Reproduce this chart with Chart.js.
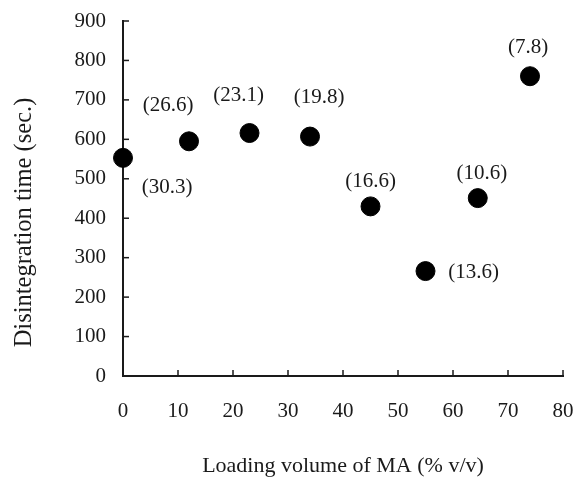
<!DOCTYPE html>
<html lang="en">
<head>
    <meta charset="UTF-8">
    <title>Disintegration time vs loading volume of MA</title>
    <script src="https://cdn.jsdelivr.net/npm/chart.js@4.4.1/dist/chart.umd.min.js"></script>
    <style>
        html, body { margin: 0; padding: 0; background: #fff; }
        #wrap { width: 576px; height: 477px; }
    </style>
</head>
<body>
    <div id="wrap"><canvas id="chart"></canvas></div>

    <script>
        // datos
        const loadingVolume = [0, 12, 23, 34, 45, 55, 64.5, 74];
        const disintegrationTime = [553, 595, 616, 607, 430, 266, 451, 760];
        const pointLabels = ['(30.3)', '(26.6)', '(23.1)', '(19.8)', '(16.6)', '(13.6)', '(10.6)', '(7.8)'];
        const xTickRange = [0, 80, 10];
        const yTickRange = [0, 900, 100];
        const yTitle = 'Disintegration time (sec.)';

        const ink = '#1a1a1a';
        const serif = '"Liberation Serif", "DejaVu Serif", serif';

        // desplazamiento de cada etiqueta respecto a su punto (px)
        const labelOffsets = [[44, 30], [-21, -36], [-11, -38], [9, -39], [0, -25], [48, 1], [4, -25], [-2, -29]];

        // marcas de los ejes hacia dentro + etiquetas de los puntos + titulo Y
        const decor = {
            id: 'decor',
            afterDraw(chart) {
                const ctx = chart.ctx;
                const xs = chart.scales.x, ys = chart.scales.y;
                const area = chart.chartArea;
                ctx.save();
                ctx.strokeStyle = ink;
                ctx.lineWidth = 1.5;
                xs.ticks.forEach(t => {
                    if (t.value === 0) return;
                    const px = xs.getPixelForValue(t.value);
                    ctx.beginPath();
                    ctx.moveTo(px, area.bottom);
                    ctx.lineTo(px, area.bottom - 6);
                    ctx.stroke();
                });
                ys.ticks.forEach(t => {
                    if (t.value === 0) return;
                    const py = ys.getPixelForValue(t.value);
                    ctx.beginPath();
                    ctx.moveTo(area.left, py);
                    ctx.lineTo(area.left + 6, py);
                    ctx.stroke();
                });

                ctx.fillStyle = ink;
                ctx.font = '21px ' + serif;
                ctx.textAlign = 'center';
                ctx.textBaseline = 'middle';
                const meta = chart.getDatasetMeta(0);
                meta.data.forEach((pt, i) => {
                    const off = labelOffsets[i];
                    ctx.fillText(pointLabels[i], pt.x + off[0], pt.y + off[1]);
                });

                // titulo del eje Y, algo mas abajo que el centro del area
                ctx.font = '24.5px ' + serif;
                ctx.translate(25, (area.top + area.bottom) / 2 + 24);
                ctx.rotate(-Math.PI / 2);
                ctx.fillText(yTitle, 0, 0);
                ctx.restore();
            }
        };

        const chart = new Chart(document.getElementById('chart'), {
            type: 'scatter',
            data: {
                datasets: [{
                    data: loadingVolume.map((x, i) => ({ x: x, y: disintegrationTime[i] })),
                    backgroundColor: '#000',
                    borderColor: '#000',
                    pointRadius: 9.5,
                    pointHoverRadius: 9.5,
                    clip: false
                }]
            },
            options: {
                responsive: true,
                maintainAspectRatio: false,
                animation: false,
                events: [],
                layout: { padding: { top: 21, right: 13, bottom: 0, left: 0 } },
                plugins: {
                    legend: { display: false },
                    tooltip: { enabled: false }
                },
                scales: {
                    x: {
                        type: 'linear',
                        min: xTickRange[0],
                        max: xTickRange[1],
                        ticks: {
                            stepSize: xTickRange[2],
                            color: ink,
                            padding: 0,
                            font: { family: serif, size: 21 }
                        },
                        grid: { drawOnChartArea: false, drawTicks: true, tickLength: 23, tickColor: 'rgba(0,0,0,0)' },
                        border: { display: true, color: ink, width: 2 },
                        title: {
                            display: true,
                            text: 'Loading volume of MA (% v/v)',
                            color: ink,
                            font: { family: serif, size: 22, lineHeight: 1 },
                            padding: { top: 0, bottom: 0 }
                        },
                        afterFit(scale) { scale.height = 101; }
                    },
                    y: {
                        type: 'linear',
                        min: yTickRange[0],
                        max: yTickRange[1],
                        ticks: {
                            stepSize: yTickRange[2],
                            color: ink,
                            padding: 0,
                            font: { family: serif, size: 21 }
                        },
                        grid: { drawOnChartArea: false, drawTicks: true, tickLength: 17, tickColor: 'rgba(0,0,0,0)' },
                        border: { display: true, color: ink, width: 2 },
                        afterFit(scale) { scale.width = 123; }
                    }
                }
            },
            plugins: [decor]
        });
    </script>
</body>
</html>
